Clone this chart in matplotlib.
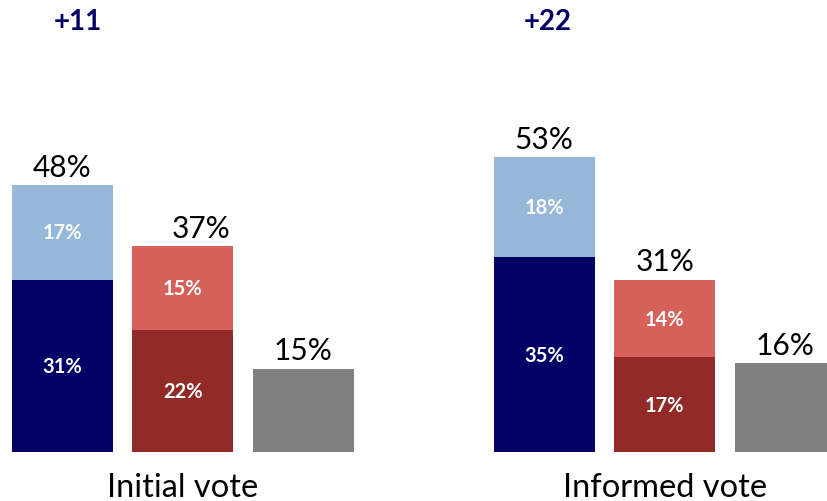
"""
Stacked vote-share bars: initial vs informed vote
"""
import matplotlib
matplotlib.use('Agg')
import matplotlib.pyplot as plt

plt.rcParams['font.family'] = ['Lato', 'DejaVu Sans']

groups = ['Initial vote', 'Informed vote']
margins = ['+11', '+22']

# first party (two segments), second party (two segments), other
blue_base = [31, 35]
blue_top = [17, 18]
red_base = [22, 17]
red_top = [15, 14]
other = [15, 16]

navy = '#000066'
light_blue = '#95b8d8'
dark_red = '#922b28'
light_red = '#d6605a'
grey = '#808080'

fig = plt.figure(figsize=(8.27, 5.02), dpi=100)
ax = fig.add_axes([0, 0, 1, 1])

width = 0.838
group_start = [0, 4]

for g in range(len(groups)):
    x0 = group_start[g] + 0.01
    blue_total = blue_base[g] + blue_top[g]
    red_total = red_base[g] + red_top[g]

    ax.bar(x0, blue_base[g], width, color=navy)
    ax.bar(x0, blue_top[g], width, bottom=blue_base[g], color=light_blue)
    ax.bar(x0 + 1, red_base[g], width, color=dark_red)
    ax.bar(x0 + 1, red_top[g], width, bottom=red_base[g], color=light_red)
    ax.bar(x0 + 2, other[g], width, color=grey)

    # inner segment labels
    for x, bottom, val in [(x0, 0, blue_base[g]), (x0, blue_base[g], blue_top[g]),
                           (x0 + 1, 0, red_base[g]), (x0 + 1, red_base[g], red_top[g])]:
        ax.text(x, bottom + val / 2, '{}%'.format(val), ha='center', va='center',
                color='white', fontsize=14.5, fontweight='bold')

    # totals above bars
    red_shift = 0.15 if g == 0 else 0
    for x, total in [(x0, blue_total), (x0 + 1 + red_shift, red_total), (x0 + 2, other[g])]:
        ax.annotate('{}%'.format(total), (x, total), xytext=(0, 3),
                    textcoords='offset points', ha='center', va='bottom',
                    fontsize=21.5, color='black')

    # lead margin
    ax.text(x0 + 0.13 if g == 0 else x0 + 0.03, 77.5, margins[g], ha='center',
            va='center', fontsize=20, fontweight='bold', color=navy)

    # group label
    ax.text(x0 + 1, -8.0, groups[g], ha='center', va='baseline', fontsize=23.5,
            color='black')

ax.set_xlim(-0.506, 6.357)
ax.set_ylim(-8.81, 81.44)
ax.axis('off')

plt.savefig('out.png', dpi=100)
plt.close()
